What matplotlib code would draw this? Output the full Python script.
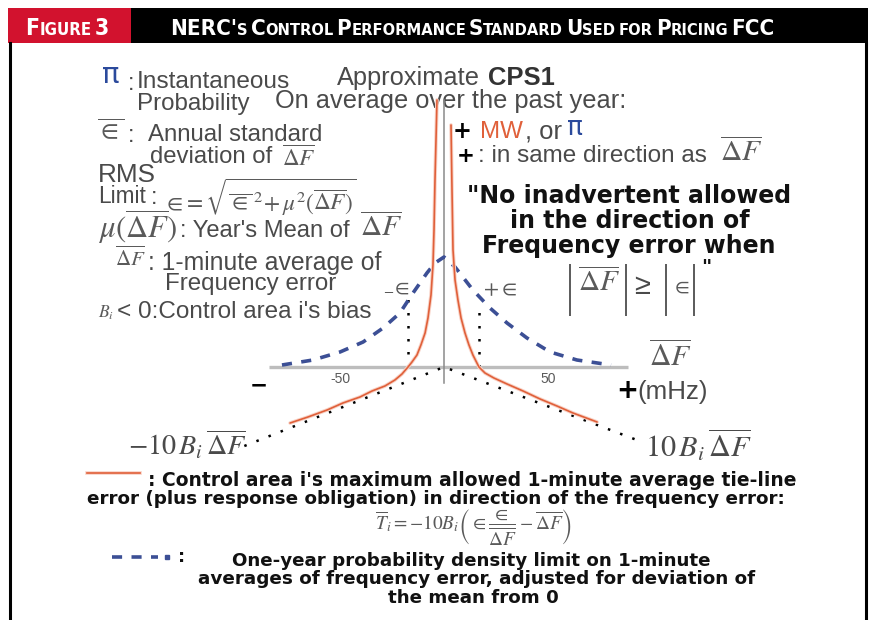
import matplotlib
matplotlib.use("Agg")
import matplotlib.pyplot as plt
from matplotlib import font_manager
from matplotlib.patches import Rectangle

W, H = 876, 620

# curves (x: frequency error in mHz, y: tie-line error, arbitrary units)
red_left_x = [-3.37, -4.33, -4.8, -5.3, -6.25, -7.7, -9.1, -11.1, -13.0, -15.4, -17.3,
              -20.2, -23.6, -28.4, -34.6, -40.4, -48.6, -56.2, -65.4, -74.0]
red_left_y = [267, 187, 137, 102, 72, 49, 34, 22, 12, 5, 0,
              -7, -13, -19, -24, -30, -36, -43, -50, -56]
red_right_x = [3.37, 3.85, 4.33, 5.3, 6.7, 8.2, 10.1, 12.0, 13.9, 16.8,
               19.7, 24.0, 30.3, 38.0, 46.2, 54.3, 62.0, 73.6]
red_right_y = [242, 177, 117, 87, 67, 49, 34, 22, 12, 0,
               -6, -11, -17, -24, -32, -39, -46, -55]

blue_x = [-77.9, -63, -50, -38.9, -29.3, -21.2, -14.9, -8.2, -4.3, 0,
          5.3, 13.9, 22.1, 30.3, 39.9, 51, 63.9, 80.3]
blue_y = [2, 7, 15, 25, 39, 54, 74, 94, 104, 110,
          100, 77, 59, 44, 29, 15, 7, 2]

bias_x = [-96, 0, 94]          # -10 B_i dF line
bias_y = [-79, 0, -74]
eps_x = [-17.3, 16.8]          # +/- epsilon
eps_top = [70, 59]
axis_x = [-84, 88.5]
tick_vals = [-50, 50]
tick_labels = ["-50", "50"]


def has_font(name):
    try:
        font_manager.findfont(font_manager.FontProperties(family=name),
                              fallback_to_default=False)
        return True
    except ValueError:
        return False


NARROW = "Liberation Sans Narrow" if has_font("Liberation Sans Narrow") else "DejaVu Sans"
SANS = "Liberation Sans"
HEAVY = "DejaVu Sans"
GRAY = "#4a4a4a"
MGRAY = "#5a5a5a"
RED = "#e0603a"
HALO = "#f8d2c6"
BLUE = "#3c4f95"
PIBLUE = "#2b4a9c"

plt.rcParams["mathtext.fontset"] = "stix"

fig = plt.figure(figsize=(W / 100, H / 100), dpi=100)
R = fig.canvas.get_renderer()

# background canvas in pixel units
bg = fig.add_axes([0, 0, 1, 1])
bg.set_xlim(0, W)
bg.set_ylim(H, 0)
bg.axis("off")


def put(x0, x1, y, s, size, va="center", **kw):
    t = bg.text(x0, y, s, fontsize=size, ha="left", va=va, **kw)
    if x1 is not None:
        w = t.get_window_extent(renderer=R).width
        t.set_fontsize(size * (x1 - x0) / w)
    return t


def small_caps(x0, x1, base, s, big, small):
    # fake small caps: upper case letters big, lower case letters small upper
    words = s.split(" ")
    items = []
    for wd in words:
        runs = []
        for ch in wd:
            fs = small if ch.islower() else big
            if runs and runs[-1][1] == fs:
                runs[-1][0] += ch.upper()
            else:
                runs.append([ch.upper(), fs])
        items.append(runs)
    gap = 0.22 * big
    texts = []
    total = 0
    for i, runs in enumerate(items):
        for txt, fs in runs:
            t = bg.text(0, base, txt, fontsize=fs, color="white", fontweight="bold",
                        family=NARROW, fontstretch="condensed", ha="left", va="baseline")
            w = t.get_window_extent(renderer=R).width
            texts.append((t, w, fs, i))
            total += w
    total += gap * (len(items) - 1)
    f = (x1 - x0) / total
    cur = x0
    last = 0
    for t, w, fs, i in texts:
        if i != last:
            cur += gap * f
            last = i
        t.set_fontsize(fs * f)
        t.set_x(cur)
        cur += w * f


# header band and frame
bg.add_patch(Rectangle((8, 8), 123, 35, color="#d2122e", lw=0))
bg.add_patch(Rectangle((131, 8), 737, 35, color="black", lw=0))
bg.plot([9.5, 9.5], [43, H], color="black", lw=2.2)
bg.plot([865.5, 865.5], [43, H], color="black", lw=2.2)
small_caps(25, 109, 35, "Figure 3", 17, 12.5)
small_caps(170, 774, 35, "NERC's Control Performance Standard Used for Pricing FCC", 17, 12.5)

# ---- data axes: origin at pixel (444, 367)
x0_px, x1_px, top_px, bot_px = 200, 720, 60, 470
sx = 2.08
ax = fig.add_axes([x0_px / W, (H - bot_px) / H, (x1_px - x0_px) / W, (bot_px - top_px) / H])
ax.set_xlim((x0_px - 444) / sx, (x1_px - 444) / sx)
ax.set_ylim(367 - bot_px, 367 - top_px)
ax.axis("off")
ax.patch.set_alpha(0)

ax.plot(axis_x, [0, 0], color="#bdbdbd", lw=2.4, solid_capstyle="butt", zorder=1)
ax.plot([0, 0], [-16, 267], color="#8a8a8a", lw=1.1, zorder=2)
for xv, lab in zip(tick_vals, tick_labels):
    ax.text(xv, -12, lab, ha="center", va="center", fontsize=10, color=MGRAY, family=SANS)

ax.plot(bias_x, bias_y, color="black", lw=1.8, ls=(0, (1, 4.2)), zorder=3)
for xe, ye in zip(eps_x, eps_top):
    ax.plot([xe, xe], [0, ye], color="black", lw=1.8, ls=(0, (1, 4.2)), zorder=3)

ax.plot(blue_x, blue_y, color=BLUE, lw=2.6, ls=(0, (2.8, 2.6)), zorder=4)

for xs, ys in [(red_left_x, red_left_y), (red_right_x, red_right_y)]:
    ax.plot(xs, ys, color=HALO, lw=2.6, zorder=5, solid_capstyle="round")
    ax.plot(xs, ys, color=RED, lw=1.2, zorder=6, solid_capstyle="round")

# ---- left definitions
bg.text(111, 75, "π", color=PIBLUE, fontsize=21, ha="center", va="center", family="DejaVu Sans")
put(128, None, 84, ":", 17, color=GRAY, family=SANS)
put(137, 290, 88, "Instantaneous", 17, va="baseline", color=GRAY, family=SANS)
put(137, 250, 110, "Probability", 17, va="baseline", color=GRAY, family=SANS)
put(337, 480, 85, "Approximate", 17, va="baseline", color=GRAY, family=SANS)
put(488, 555, 85, "CPS1", 17, va="baseline", color="#333333", fontweight="bold", family=SANS)
put(275, 626, 108, "On average over the past year:", 17, va="baseline", color=GRAY, family=SANS)

put(97, 124, 132, r"$\overline{\in}$", 20, color=MGRAY)
put(128, None, 136, ":", 17, color=GRAY, family=SANS)
put(148, 323, 141, "Annual standard", 17, va="baseline", color=GRAY, family=SANS)
put(150, 273, 163, "deviation of", 17, va="baseline", color=GRAY, family=SANS)
put(282, 316, 159, r"$\overline{\Delta F}$", 13, color=MGRAY)

put(98, 156, 182, "RMS", 17, va="baseline", color=GRAY, family=SANS)
put(98, 146, 203, "Limit", 17, va="baseline", color=GRAY, family=SANS)
put(151, None, 198, ":", 17, color=GRAY, family=SANS)
put(163, 357, 197,
    r"$\in\!=\sqrt{\overline{\in}^{\,2}\!+\mu^2(\overline{\Delta F})}$", 15, color=MGRAY)

put(98, 178, 227, r"$\mu(\overline{\Delta F})$", 15, color=MGRAY)
put(180, 350, 237, ": Year's Mean of", 17, va="baseline", color=GRAY, family=SANS)
put(360, 403, 228, r"$\overline{\Delta F}$", 15, color=MGRAY)

put(115, 146, 258, r"$\overline{\Delta F}$", 13, color=MGRAY)
put(148, 383, 270, ": 1-minute average of", 17, va="baseline", color=GRAY, family=SANS)
put(165, 337, 290, "Frequency error", 17, va="baseline", color=GRAY, family=SANS)
put(98, 114, 313, r"$B_i$", 13, color=MGRAY)
put(117, 373, 318, "< 0:Control area i's bias", 17, va="baseline", color=GRAY, family=SANS)

# ---- right annotations
put(453, 472, 131, "+", 20, color="black", fontweight="bold", family=HEAVY)
put(480, 523, 138, "MW", 17, va="baseline", color=RED, family=SANS)
put(525, 562, 138, ", or", 17, va="baseline", color=GRAY, family=SANS)
bg.text(575, 128, "π", color=PIBLUE, fontsize=19, ha="center", va="center", family="DejaVu Sans")
put(457, 475, 156, "+", 20, color="black", fontweight="bold", family=HEAVY)
put(478, 708, 162, ": in same direction as", 17, va="baseline", color=GRAY, family=SANS)
put(720, 763, 153, r"$\overline{\Delta F}$", 16, color=MGRAY)

put(467, 792, 203, "\"No inadvertent allowed", 17, va="baseline", color="#111111",
    fontweight="bold", family=HEAVY)
put(510, 750, 228, "in the direction of", 17, va="baseline", color="#111111",
    fontweight="bold", family=HEAVY)
put(482, 775, 253, "Frequency error when", 17, va="baseline", color="#111111",
    fontweight="bold", family=HEAVY)
# |dF| >= |eps| : absolute value bars
for xb in (570, 626, 666, 694):
    bg.plot([xb, xb], [264, 316], color=MGRAY, lw=1.4, solid_capstyle="butt")
put(578, 620, 283, r"$\overline{\Delta F}$", 20, color=MGRAY)
put(634, 650, 286, "≥", 16, color=GRAY, family=SANS)
put(671, 689, 287, r"$\in$", 20, color=MGRAY)
put(701, None, 268, "\"", 14, color="#111111", fontweight="bold", family=HEAVY)

# ---- curve labels
put(383, 410, 287, r"$_{-}\!\in$", 16, color=MGRAY)
put(483, 517, 289, r"$+\in$", 16, color=MGRAY)
put(649, 692, 357, r"$\overline{\Delta F}$", 18, color=MGRAY)
bg.text(627, 391, "+", fontsize=19, color="black", fontweight="bold", family=HEAVY,
        ha="center", va="center")
put(637, 708, 392, "(mHz)", 16, color=GRAY, family=SANS)
put(250, 268, 385, "−", 22, color="black", fontweight="heavy", family=HEAVY)
put(128, 247, 445, r"$-10\,B_i\,\overline{\Delta F}$", 18, color=GRAY)
put(645, 752, 445, r"$10\,B_i\,\overline{\Delta F}$", 18, color=GRAY)

# ---- legend text
bg.plot([87, 140], [473, 473], color=HALO, lw=2.6)
bg.plot([87, 140], [473, 473], color=RED, lw=1.2)
put(148, 793, 480, ": Control area i's maximum allowed 1-minute average tie-line", 12,
    color="#111111", fontweight="bold", family=HEAVY)
put(87, 788, 499, "error (plus response obligation) in direction of the frequency error:", 12,
    color="#111111", fontweight="bold", family=HEAVY)
put(375, 573, 528,
    r"$\overline{T}_i = -10B_i\left(\in\dfrac{\in}{\overline{\Delta F}}-\overline{\Delta F}\right)$",
    15, color=MGRAY)

bg.plot([112, 158], [557, 557], color=BLUE, lw=2.6, ls=(0, (2.8, 2.6)))
bg.plot([167], [557], "s", color=BLUE, ms=2.5)
put(178, None, 557, ":", 13, color="#111111", fontweight="bold", family=HEAVY)
put(232, 709, 561, "One-year probability density limit on 1-minute", 12,
    color="#111111", fontweight="bold", family=HEAVY)
put(198, 757, 579, "averages of frequency error, adjusted for deviation of", 12,
    color="#111111", fontweight="bold", family=HEAVY)
put(388, 559, 598, "the mean from 0", 12,
    color="#111111", fontweight="bold", family=HEAVY)

fig.savefig("out.png", dpi=100)
